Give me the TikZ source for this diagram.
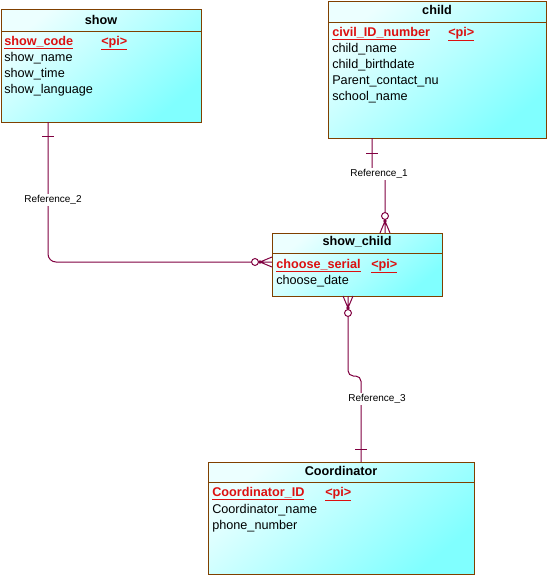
\documentclass[tikz,border=0pt]{standalone}
\usepackage{fontspec}
\setmainfont{Liberation Sans}
\usepackage{tikz}
\usetikzlibrary{positioning,fit,calc}
\usepackage{xcolor}

\definecolor{entborder}{RGB}{128,64,0}
\definecolor{reflink}{RGB}{128,0,64}
\definecolor{keyred}{RGB}{220,16,16}
\definecolor{cyanlight}{RGB}{236,255,255}
\definecolor{cyandeep}{RGB}{128,255,255}

\tikzset{
  entbox/.style={draw=entborder, line width=0.75pt, inner sep=0pt, outer sep=0pt,
    top color=cyanlight, bottom color=cyandeep, shading angle=40},
  enttitle/.style={font=\fontsize{9.5}{11}\selectfont\bfseries, inner sep=0pt},
  attr/.style={font=\fontsize{9.5}{11}\selectfont, anchor=base west, inner sep=0pt},
  keyattr/.style={attr, font=\fontsize{9.5}{11}\selectfont\bfseries, text=keyred},
  reflink/.style={draw=reflink, line width=0.75pt},
  reflabel/.style={font=\fontsize{7.5}{9}\selectfont, fill=white, inner sep=1pt},
}

% many side of a reference: circle and crow's foot
\newcommand{\crowfoot}[2]{%
  \begin{scope}[shift={(#1)}, rotate=#2]
    \draw[reflink] (-5,0) -- (0,-12) -- (5,0) (0,0) -- (0,-13.5);
    \fill[reflink] (0,-12) circle (0.8pt);
    \draw[reflink, fill=white] (0,-17) circle (2.6pt);
  \end{scope}}

\begin{document}
\begin{tikzpicture}[x=0.75pt, y=-0.75pt, >=stealth]
    \useasboundingbox (0,0) rectangle (547,575);

    % entity boxes
    \node[entbox, fit={(1,9) (201,122)}] (show) {};
    \node[entbox, fit={(328,1) (546,138)}] (child) {};
    \node[entbox, fit={(272,233) (442,296)}] (showchild) {};
    \node[entbox, fit={(208,462) (474,574)}] (coord) {};

    % header lines
    \foreach \b/\h in {show/22, child/21, showchild/20, coord/20}{
        \draw[draw=entborder, line width=0.75pt] ($(\b.north west)+(0,\h)$) -- ($(\b.north east)+(0,\h)$);
    }

    % titles
    \node[enttitle] (show-t) at (101,20) {show};
    \node[enttitle] (child-t) at (437,10) {child};
    \node[enttitle] (showchild-t) at (357,242) {show\_child};
    \node[enttitle] (coord-t) at (341,471) {Coordinator};

    % primary identifiers
    \node[keyattr] (show-k) at (4,45) {\underline{show\_code}};
    \node[keyattr] (show-pi) at (101,45) {\underline{<pi>}};
    \node[keyattr] (child-k) at (332,36) {\underline{civil\_ID\_number}};
    \node[keyattr] (child-pi) at (448,36) {\underline{<pi>}};
    \node[keyattr] (showchild-k) at (276,268) {\underline{choose\_serial}};
    \node[keyattr] (showchild-pi) at (371,268) {\underline{<pi>}};
    \node[keyattr] (coord-k) at (212,496) {\underline{Coordinator\_ID}};
    \node[keyattr] (coord-pi) at (325,496) {\underline{<pi>}};

    % attributes
    \foreach \y/\txt in {61/show\_name, 77/show\_time, 93/show\_language}{
        \node[attr] (show-\y) at (4,\y) {\txt};
    }
    \foreach \y/\txt in {52/child\_name, 68/child\_birthdate, 84/Parent\_contact\_nu, 100/school\_name}{
        \node[attr] (child-\y) at (332,\y) {\txt};
    }
    \node[attr] (showchild-284) at (276,284) {choose\_date};
    \foreach \y/\txt in {513/Coordinator\_name, 529/phone\_number}{
        \node[attr] (coord-\y) at (212,\y) {\txt};
    }

    % reference ends
    \coordinate (r1-child) at ($(child.south west)+(44,0)$);
    \coordinate (r1-sc) at ($(showchild.north west)+(113,0)$);
    \coordinate (r2-show) at ($(show.south west)+(47,0)$);
    \coordinate (r2-sc) at ($(showchild.north west)+(0,29)$);
    \coordinate (r3-sc) at ($(showchild.south west)+(76,0)$);
    \coordinate (r3-coord) at ($(coord.north west)+(153,0)$);

    % Reference_1
    \draw[reflink] (r1-child) -- ++(0,32) -- ++(13,8) -- ($(r1-sc)+(0,-20.5)$);
    \draw[reflink] ($(r1-child)+(-6,15)$) -- ++(12,0);
    \crowfoot{r1-sc}{0}

    % Reference_2
    \draw[reflink, rounded corners=6pt] (r2-show) |- ($(r2-sc)+(-20.5,0)$);
    \draw[reflink] ($(r2-show)+(-6,14)$) -- ++(12,0);
    \crowfoot{r2-sc}{90}

    % Reference_3
    \draw[reflink, rounded corners=4pt] ($(r3-sc)+(0,20.5)$) -- ($(r3-sc)+(0,80)$) -- ++(13,0) -- (r3-coord);
    \draw[reflink] ($(r3-coord)+(-6,-13)$) -- ++(12,0);
    \crowfoot{r3-sc}{180}

    % reference names
    \node[reflabel] (ref1) at (379,174) {Reference\_1};
    \node[reflabel] (ref2) at (53,200) {Reference\_2};
    \node[reflabel] (ref3) at (377,399) {Reference\_3};
\end{tikzpicture}
\end{document}
